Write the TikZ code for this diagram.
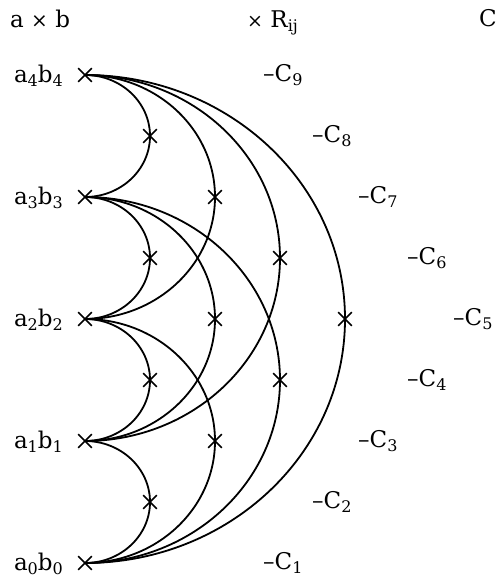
\documentclass[tikz,border=0pt]{standalone}
\usepackage{fontspec}
\setmainfont{DejaVu Serif}
\usetikzlibrary{shapes.misc}
\newcommand\sbs[1]{\raisebox{-4.5pt}{\fontsize{16}{16}\selectfont #1}}
\tikzset{
  mk/.style={cross out, draw, line width=1.6pt, minimum size=12pt, inner sep=0pt},
  arcline/.style={line width=1.8pt},
  lbl/.style={font=\fontsize{23}{27}\selectfont, inner sep=0pt},
}
\begin{document}
\begin{tikzpicture}[x=1pt,y=1pt]
\useasboundingbox (0,0) rectangle (498,-581);
\node[lbl, anchor=base west] (h1) at (10,-27) {a {\fontsize{20}{20}\selectfont ×} b};
\node[lbl, anchor=base west] (h2) at (247,-27) {{\fontsize{19}{19}\selectfont ×} R\sbs{ij}};
\node[lbl, anchor=base west] (h3) at (479,-26) {C};
\foreach \i/\y in {4/75,3/197,2/319,1/441,0/563}{
  \node[mk] (r\i) at (85,-\y) {};
  \node[lbl, anchor=base east] (t\i) at (63,-\y-7) {a\sbs{\i}b\sbs{\i}};
}
\foreach \i/\j in {4/3,3/2,2/1,1/0,4/2,3/1,2/0,4/1,3/0,4/0}{
  \pgfmathsetmacro\k{\i-\j}
  \draw[arcline] (r\i.center) arc[start angle=90,end angle=-90,x radius={65*\k pt}, y radius={61*\k pt}];
  \path (r\i.center) ++(65*\k,-61*\k) node[mk] (m\i\j) {};
}
\foreach \n/\x/\y in {9/263/75, 8/312/136, 7/358/197, 6/407/258, 5/453/319, 4/407/380, 3/358/441, 2/312/502, 1/263/563}{
  \node[lbl, anchor=base west] (c\n) at (\x,-\y-6) {–C\sbs{\n}};
}
\end{tikzpicture}
\end{document}
